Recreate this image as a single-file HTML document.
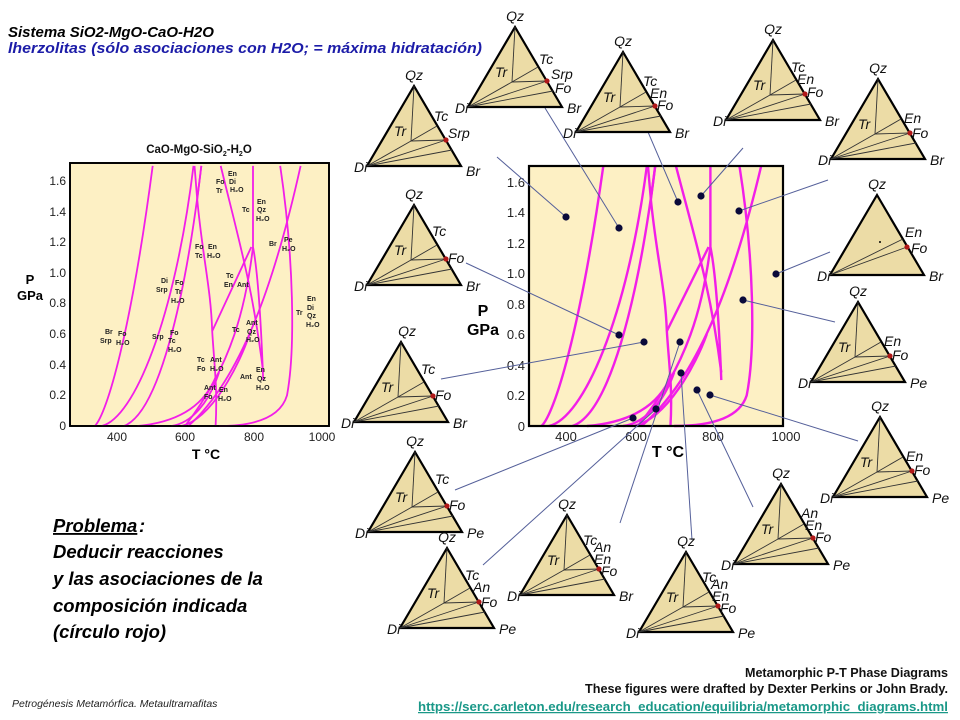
<!DOCTYPE html>
<html><head><meta charset="utf-8"><style>
body{margin:0;background:#fff}
svg{display:block}
text{font-family:"Liberation Sans",sans-serif}
.t{font-style:italic;font-size:14px;fill:#111}
.ax{font-size:13px;fill:#222}
.sax{font-size:12px;fill:#222}
.sl{font-size:7px;font-weight:bold;fill:#222}
.cv{fill:none;stroke:#f21ee8;stroke-width:2.4}
.sc{fill:none;stroke:#f21ee8;stroke-width:1.8}
.cn{stroke:#55609a;stroke-width:1;fill:none}
</style></head><body>
<svg width="960" height="720" viewBox="0 0 960 720" xmlns="http://www.w3.org/2000/svg">
<defs>
<g id="tri">
<path d="M0 0 L-47 80 L47 80 Z" fill="#ecdca6" stroke="#000" stroke-width="2.2" stroke-linejoin="miter"/>
<g stroke="#333" stroke-width="0.9">
<line x1="0" y1="0" x2="-3" y2="55"/>
<line x1="-3" y1="55" x2="23" y2="40"/>
<line x1="-3" y1="55" x2="32" y2="54"/>
<line x1="-47" y1="80" x2="-3" y2="55"/>
<line x1="-47" y1="80" x2="32" y2="54"/>
<line x1="-47" y1="80" x2="38" y2="64"/>
</g>
<circle cx="32" cy="54" r="2.6" fill="#b01818"/>
</g>
<g id="tri2">
<path d="M0 0 L-47 80 L47 80 Z" fill="#ecdca6" stroke="#000" stroke-width="2.2"/>
<g stroke="#333" stroke-width="0.9">
<line x1="-47" y1="80" x2="26" y2="44"/>
<line x1="-47" y1="80" x2="30" y2="52"/>
</g>
<circle cx="3" cy="47" r="1" fill="#000"/>
<circle cx="30" cy="52" r="2.6" fill="#b01818"/>
</g>
<g id="curves">
<path vector-effect="non-scaling-stroke" d="M335 0 C370 8 440 60 505 170"/>
<path vector-effect="non-scaling-stroke" d="M355 0 C450 5 570 70 625 170"/>
<path vector-effect="non-scaling-stroke" d="M420 0 C520 8 600 80 648 170"/>
<path vector-effect="non-scaling-stroke" d="M460 0 C560 2 650 10 690 32"/>
<path vector-effect="non-scaling-stroke" d="M560 0 C620 2 670 15 700 35"/>
<path vector-effect="non-scaling-stroke" d="M628 170 L636 148 C652 110 676 90 680 62 C686 40 696 25 690 0"/>
<path vector-effect="non-scaling-stroke" d="M648 170 L636 148"/>
<path vector-effect="non-scaling-stroke" d="M680 62 L795 117"/>
<path vector-effect="non-scaling-stroke" d="M800 170 L800 117 C815 100 825 60 830 30"/>
<path vector-effect="non-scaling-stroke" d="M705 170 C760 120 800 90 830 35"/>
<path vector-effect="non-scaling-stroke" d="M800 117 C780 80 740 40 600 0"/>
<path vector-effect="non-scaling-stroke" d="M940 170 C860 90 760 30 610 0"/>
<path vector-effect="non-scaling-stroke" d="M880 170 C920 110 925 50 900 20 C880 5 800 0 700 0"/>
<path vector-effect="non-scaling-stroke" d="M590 0 C680 5 760 40 790 60"/>
</g>
</defs>

<text x="8" y="37" font-size="15" font-weight="bold" font-style="italic" fill="#000">Sistema SiO2-MgO-CaO-H2O</text>
<text x="8" y="53" font-size="15" font-weight="bold" font-style="italic" fill="#1c1ca8" textLength="474" lengthAdjust="spacingAndGlyphs">lherzolitas (sólo asociaciones con H2O; = máxima hidratación)</text>

<!-- small plot -->
<text x="199" y="153" font-size="11.5" font-weight="bold" text-anchor="middle" fill="#111">CaO-MgO-SiO<tspan font-size="7" dy="3">2</tspan><tspan dy="-3">-H</tspan><tspan font-size="7" dy="3">2</tspan><tspan dy="-3">O</tspan></text>
<rect x="70" y="163" width="259" height="263" fill="#fdf0c4" stroke="#000" stroke-width="1.8"/>
<g class="sc" transform="matrix(0.34,0,0,-1.53,-19,426)"><use href="#curves"/></g>
<rect x="70" y="163" width="259" height="263" fill="none" stroke="#000" stroke-width="1.8"/>
<g class="sax" text-anchor="end">
<text x="66" y="430">0</text><text x="66" y="399">0.2</text><text x="66" y="369">0.4</text><text x="66" y="338">0.6</text><text x="66" y="307">0.8</text><text x="66" y="277">1.0</text><text x="66" y="246">1.2</text><text x="66" y="216">1.4</text><text x="66" y="185">1.6</text>
</g>
<g class="sax" text-anchor="middle"><text x="117" y="441">400</text><text x="185" y="441">600</text><text x="254" y="441">800</text><text x="322" y="441">1000</text></g>
<text x="206" y="459" font-size="14" font-weight="bold" text-anchor="middle">T °C</text>
<text x="30" y="284" font-size="13" font-weight="bold" text-anchor="middle">P</text>
<text x="30" y="300" font-size="13" font-weight="bold" text-anchor="middle">GPa</text>
<g class="sl">
<text x="105" y="334">Br</text><text x="100" y="343">Srp</text><text x="118" y="336">Fo</text><text x="116" y="345">H₂O</text>
<text x="152" y="339">Srp</text><text x="170" y="335">Fo</text><text x="168" y="343">Tc</text><text x="168" y="352">H₂O</text>
<text x="161" y="283">Di</text><text x="156" y="292">Srp</text><text x="175" y="285">Fo</text><text x="175" y="294">Tr</text><text x="171" y="303">H₂O</text>
<text x="195" y="249">Fo</text><text x="195" y="258">Tc</text><text x="208" y="249">En</text><text x="207" y="258">H₂O</text>
<text x="216" y="184">Fo</text><text x="216" y="193">Tr</text><text x="228" y="176">En</text><text x="229" y="184">Di</text><text x="230" y="192">H₂O</text>
<text x="242" y="212">Tc</text><text x="257" y="204">En</text><text x="257" y="212">Qz</text><text x="256" y="221">H₂O</text>
<text x="226" y="278">Tc</text><text x="224" y="287">En</text><text x="237" y="287">Ant</text>
<text x="269" y="246">Br</text><text x="284" y="242">Pe</text><text x="282" y="251">H₂O</text>
<text x="197" y="362">Tc</text><text x="197" y="371">Fo</text><text x="210" y="362">Ant</text><text x="210" y="371">H₂O</text>
<text x="232" y="332">Tc</text><text x="246" y="325">Ant</text><text x="247" y="334">Qz</text><text x="246" y="342">H₂O</text>
<text x="204" y="390">Ant</text><text x="204" y="399">Fo</text><text x="219" y="392">En</text><text x="218" y="401">H₂O</text>
<text x="240" y="379">Ant</text><text x="256" y="372">En</text><text x="257" y="381">Qz</text><text x="256" y="390">H₂O</text>
<text x="296" y="315">Tr</text><text x="307" y="301">En</text><text x="307" y="310">Di</text><text x="307" y="318">Qz</text><text x="306" y="327">H₂O</text>
</g>

<!-- big plot -->
<rect x="529" y="166" width="254" height="260" fill="#fdf0c4"/>
<g class="cv" transform="matrix(0.363,0,0,-1.53,420,426)"><use href="#curves"/></g>
<rect x="529" y="166" width="254" height="260" fill="none" stroke="#000" stroke-width="2.2"/>
<g class="ax" text-anchor="end">
<text x="525" y="431">0</text><text x="525" y="400">0.2</text><text x="525" y="370">0.4</text><text x="525" y="339">0.6</text><text x="525" y="309">0.8</text><text x="525" y="278">1.0</text><text x="525" y="248">1.2</text><text x="525" y="217">1.4</text><text x="525" y="187">1.6</text>
</g>
<g class="ax" text-anchor="middle"><text x="566" y="441">400</text><text x="636" y="441">600</text><text x="713" y="441">800</text><text x="786" y="441">1000</text></g>
<text x="668" y="457" font-size="16" font-weight="bold" text-anchor="middle">T °C</text>
<text x="483" y="316" font-size="16" font-weight="bold" text-anchor="middle">P</text>
<text x="483" y="335" font-size="16" font-weight="bold" text-anchor="middle">GPa</text>

<!-- connectors -->
<g class="cn">
<line x1="566" y1="217" x2="497" y2="157"/>
<line x1="619" y1="228" x2="545" y2="108"/>
<line x1="678" y1="202" x2="645" y2="125"/>
<line x1="701" y1="196" x2="743" y2="148"/>
<line x1="739" y1="211" x2="828" y2="180"/>
<line x1="776" y1="274" x2="830" y2="252"/>
<line x1="743" y1="300" x2="835" y2="322"/>
<line x1="619" y1="335" x2="466" y2="263"/>
<line x1="644" y1="342" x2="441" y2="379"/>
<line x1="680" y1="342" x2="620" y2="523"/>
<line x1="681" y1="373" x2="692" y2="540"/>
<line x1="697" y1="390" x2="753" y2="507"/>
<line x1="710" y1="395" x2="858" y2="441"/>
<line x1="656" y1="409" x2="483" y2="565"/>
<line x1="633" y1="418" x2="455" y2="490"/>
</g>
<g fill="#0a0a3a">
<circle cx="566" cy="217" r="3.6"/><circle cx="619" cy="228" r="3.6"/><circle cx="678" cy="202" r="3.6"/><circle cx="701" cy="196" r="3.6"/><circle cx="739" cy="211" r="3.6"/><circle cx="776" cy="274" r="3.6"/><circle cx="743" cy="300" r="3.6"/><circle cx="619" cy="335" r="3.6"/><circle cx="644" cy="342" r="3.6"/><circle cx="680" cy="342" r="3.6"/><circle cx="681" cy="373" r="3.6"/><circle cx="697" cy="390" r="3.6"/><circle cx="710" cy="395" r="3.6"/><circle cx="656" cy="409" r="3.6"/><circle cx="633" cy="418" r="3.6"/>
</g>

<!-- triangles -->
<g transform="translate(515,27)"><use href="#tri"/><g class="t"><text x="0" y="-6" text-anchor="middle">Qz</text><text x="-60" y="86">Di</text><text x="52" y="86">Br</text><text x="-20" y="50">Tr</text><text x="24" y="37">Tc</text><text x="36" y="52">Srp</text><text x="40" y="66">Fo</text></g></g>
<g transform="translate(623,52)"><use href="#tri"/><g class="t"><text x="0" y="-6" text-anchor="middle">Qz</text><text x="-60" y="86">Di</text><text x="52" y="86">Br</text><text x="-20" y="50">Tr</text><text x="20" y="34">Tc</text><text x="27" y="46">En</text><text x="34" y="58">Fo</text></g></g>
<g transform="translate(773,40)"><use href="#tri"/><g class="t"><text x="0" y="-6" text-anchor="middle">Qz</text><text x="-60" y="86">Di</text><text x="52" y="86">Br</text><text x="-20" y="50">Tr</text><text x="18" y="32">Tc</text><text x="24" y="44">En</text><text x="34" y="57">Fo</text></g></g>
<g transform="translate(878,79)"><use href="#tri"/><g class="t"><text x="0" y="-6" text-anchor="middle">Qz</text><text x="-60" y="86">Di</text><text x="52" y="86">Br</text><text x="-20" y="50">Tr</text><text x="26" y="44">En</text><text x="34" y="59">Fo</text></g></g>
<g transform="translate(414,86)"><use href="#tri"/><g class="t"><text x="0" y="-6" text-anchor="middle">Qz</text><text x="-60" y="86">Di</text><text x="52" y="90">Br</text><text x="-20" y="50">Tr</text><text x="20" y="35">Tc</text><text x="34" y="52">Srp</text></g></g>
<g transform="translate(877,195)"><use href="#tri2"/><g class="t"><text x="0" y="-6" text-anchor="middle">Qz</text><text x="-60" y="86">Di</text><text x="52" y="86">Br</text><text x="28" y="42">En</text><text x="34" y="58">Fo</text></g></g>
<g transform="translate(414,205)"><use href="#tri"/><g class="t"><text x="0" y="-6" text-anchor="middle">Qz</text><text x="-60" y="86">Di</text><text x="52" y="86">Br</text><text x="-20" y="50">Tr</text><text x="18" y="31">Tc</text><text x="34" y="58">Fo</text></g></g>
<g transform="translate(858,302)"><use href="#tri"/><g class="t"><text x="0" y="-6" text-anchor="middle">Qz</text><text x="-60" y="86">Di</text><text x="52" y="86">Pe</text><text x="-20" y="50">Tr</text><text x="26" y="44">En</text><text x="34" y="58">Fo</text></g></g>
<g transform="translate(401,342)"><use href="#tri"/><g class="t"><text x="6" y="-6" text-anchor="middle">Qz</text><text x="-60" y="86">Di</text><text x="52" y="86">Br</text><text x="-20" y="50">Tr</text><text x="20" y="32">Tc</text><text x="34" y="58">Fo</text></g></g>
<g transform="translate(880,417)"><use href="#tri"/><g class="t"><text x="0" y="-6" text-anchor="middle">Qz</text><text x="-60" y="86">Di</text><text x="52" y="86">Pe</text><text x="-20" y="50">Tr</text><text x="26" y="44">En</text><text x="34" y="58">Fo</text></g></g>
<g transform="translate(415,452)"><use href="#tri"/><g class="t"><text x="0" y="-6" text-anchor="middle">Qz</text><text x="-60" y="86">Di</text><text x="52" y="86">Pe</text><text x="-20" y="50">Tr</text><text x="20" y="32">Tc</text><text x="34" y="58">Fo</text></g></g>
<g transform="translate(781,484)"><use href="#tri"/><g class="t"><text x="0" y="-6" text-anchor="middle">Qz</text><text x="-60" y="86">Di</text><text x="52" y="86">Pe</text><text x="-20" y="50">Tr</text><text x="20" y="34">An</text><text x="24" y="46">En</text><text x="34" y="58">Fo</text></g></g>
<g transform="translate(567,515)"><use href="#tri"/><g class="t"><text x="0" y="-6" text-anchor="middle">Qz</text><text x="-60" y="86">Di</text><text x="52" y="86">Br</text><text x="-20" y="50">Tr</text><text x="16" y="30">Tc</text><text x="27" y="37">An</text><text x="27" y="49">En</text><text x="34" y="61">Fo</text></g></g>
<g transform="translate(447,548)"><use href="#tri"/><g class="t"><text x="0" y="-6" text-anchor="middle">Qz</text><text x="-60" y="86">Di</text><text x="52" y="86">Pe</text><text x="-20" y="50">Tr</text><text x="18" y="32">Tc</text><text x="26" y="44">An</text><text x="34" y="59">Fo</text></g></g>
<g transform="translate(686,552)"><use href="#tri"/><g class="t"><text x="0" y="-6" text-anchor="middle">Qz</text><text x="-60" y="86">Di</text><text x="52" y="86">Pe</text><text x="-20" y="50">Tr</text><text x="16" y="30">Tc</text><text x="25" y="37">An</text><text x="26" y="49">En</text><text x="34" y="61">Fo</text></g></g>

<!-- problema -->
<g font-size="18.5" font-weight="bold" font-style="italic" fill="#000">
<text x="53" y="532" text-decoration="underline">Problema</text><text x="139" y="532">:</text>
<text x="53" y="558">Deducir reacciones</text>
<text x="53" y="585">y las asociaciones de la</text>
<text x="53" y="612">composición indicada</text>
<text x="53" y="638">(círculo rojo)</text>
</g>
<text x="12" y="707" font-size="10.5" font-style="italic" fill="#222">Petrogénesis  Metamórfica.  Metaultramafitas</text>
<g font-size="12.5" font-weight="bold">
<text x="745" y="677" fill="#111" textLength="203" lengthAdjust="spacingAndGlyphs">Metamorphic P-T Phase Diagrams</text>
<text x="585" y="693" fill="#111" textLength="363" lengthAdjust="spacingAndGlyphs">These figures were drafted by Dexter Perkins or John Brady.</text>
<text x="418" y="711" fill="#1a9888" text-decoration="underline" textLength="530" lengthAdjust="spacingAndGlyphs">https://serc.carleton.edu/research_education/equilibria/metamorphic_diagrams.html</text>
</g>
</svg>
</body></html>
